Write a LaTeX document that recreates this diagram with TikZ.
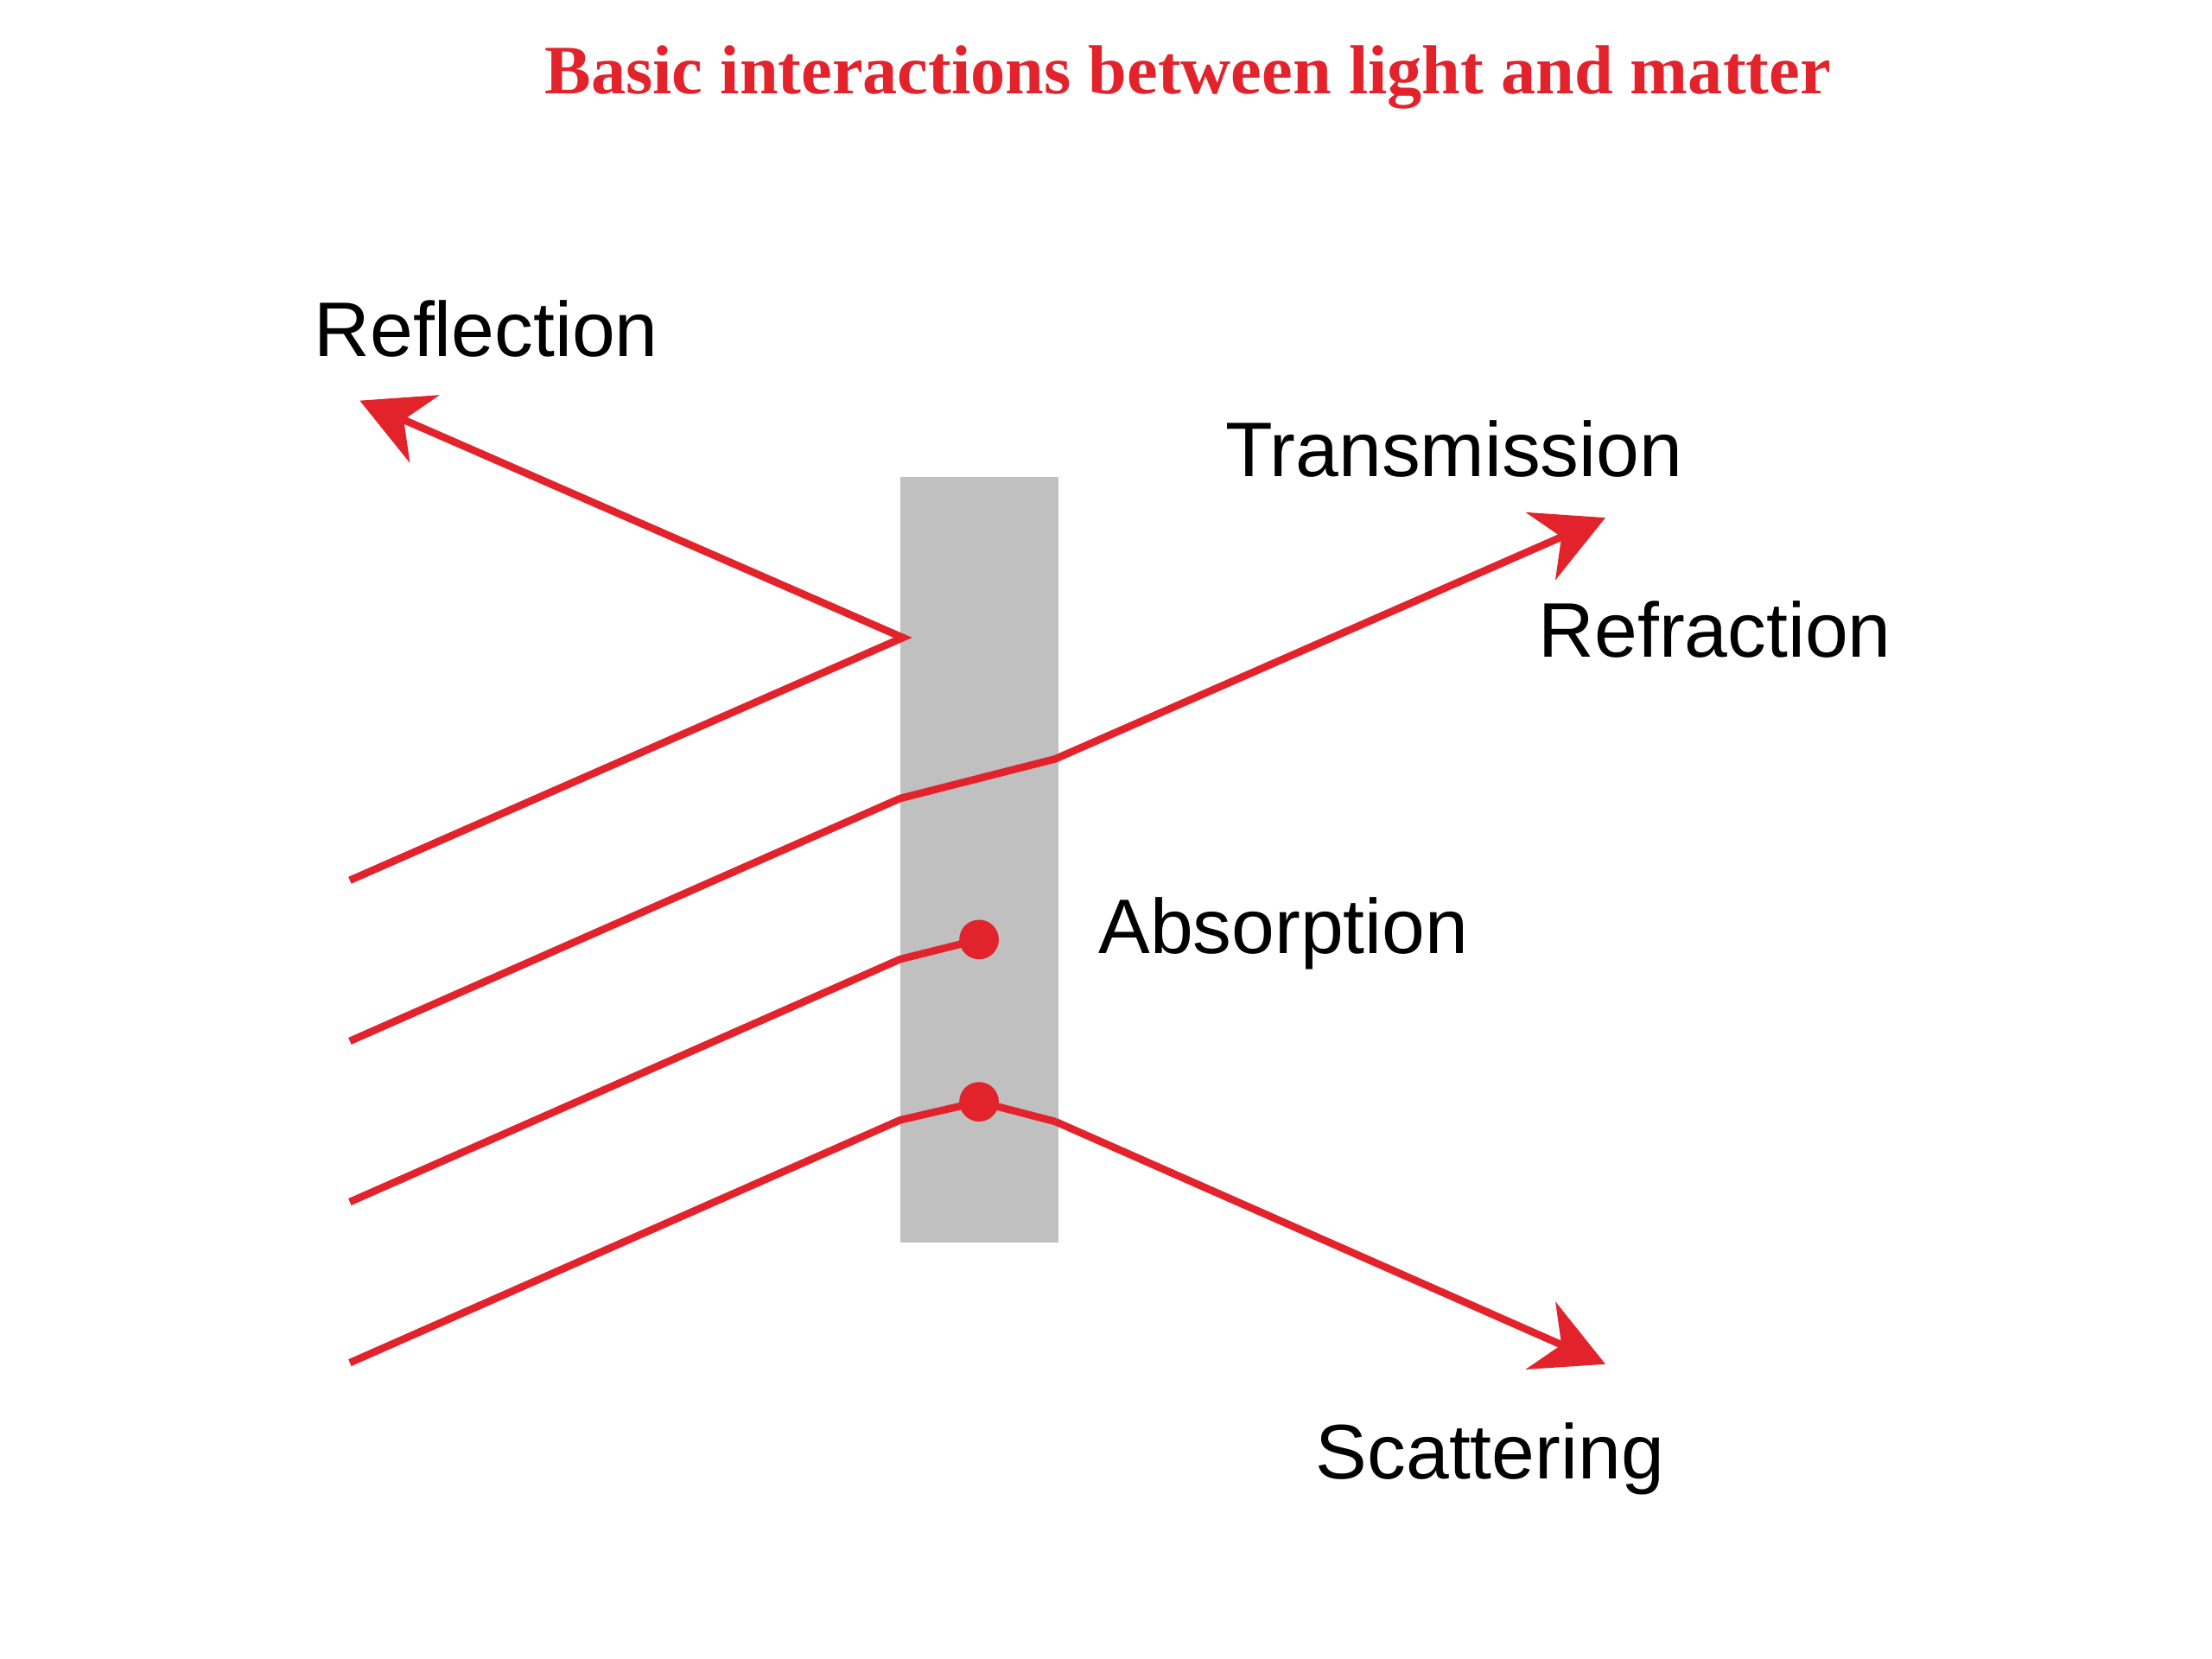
\documentclass[tikz,border=0pt]{standalone}
\usepackage{fontspec}
\setmainfont{Liberation Sans}
\newfontfamily\titlefont{Liberation Serif}
\usetikzlibrary{arrows.meta}
\definecolor{ray}{HTML}{E3232B}
\definecolor{slab}{HTML}{C0C0C0}
\tikzset{
  ray/.style={draw=ray,line width=1.5pt},
  rayarrow/.style={ray,-{Stealth[length=0.5cm,width=0.52cm,inset=0.16cm]}},
  lbl/.style={font=\fontsize{15.6}{18}\selectfont,anchor=west,inner sep=0pt},
  dot/.style={circle,fill=ray,minimum size=0.28cm,inner sep=0pt}
}
\begin{document}
\begin{tikzpicture}[x=1cm,y=-1cm]
\useasboundingbox[fill=white] (0,0) rectangle (15.68,11.76);
\node[font=\titlefont\bfseries\fontsize{14}{16}\selectfont,text=ray] (title) at (8.42,0.55) {Basic interactions between light and matter};
\node[fill=slab,minimum width=1.12cm,minimum height=5.43cm,inner sep=0pt] (slab) at (6.94,6.095) {};
% rays
\coordinate (a1) at (2.48,6.24); \coordinate (a2) at (6.40,4.52); \coordinate (a3) at (2.55,2.84);
\draw[rayarrow] (a1) -- (a2) -- (a3);
\coordinate (b1) at (2.48,7.38); \coordinate (b2) at (6.38,5.66); \coordinate (b3) at (7.48,5.38); \coordinate (b4) at (11.38,3.67);
\draw[rayarrow] (b1) -- (b2) -- (b3) -- (b4);
\node[dot] (d1) at (6.94,6.66) {};
\coordinate (c1) at (2.48,8.52); \coordinate (c2) at (6.38,6.80);
\draw[ray] (c1) -- (c2) -- (d1.center);
\node[dot] (d2) at (6.94,7.81) {};
\coordinate (e1) at (2.48,9.66); \coordinate (e2) at (6.38,7.94); \coordinate (e3) at (7.48,7.95); \coordinate (e4) at (11.38,9.67);
\draw[ray] (e1) -- (e2) -- (d2.center) -- (e3);
\draw[rayarrow] (e3) -- (e4);
% labels
\node[lbl] (refl) at (2.22,2.33) {Reflection};
\node[lbl] (trans) at (8.68,3.18) {Transmission};
\node[lbl] (refr) at (10.90,4.46) {Refraction};
\node[lbl] (abs) at (7.78,6.62) {Absorption};
\node[lbl] (scat) at (9.32,10.34) {Scattering};
\end{tikzpicture}
\end{document}
